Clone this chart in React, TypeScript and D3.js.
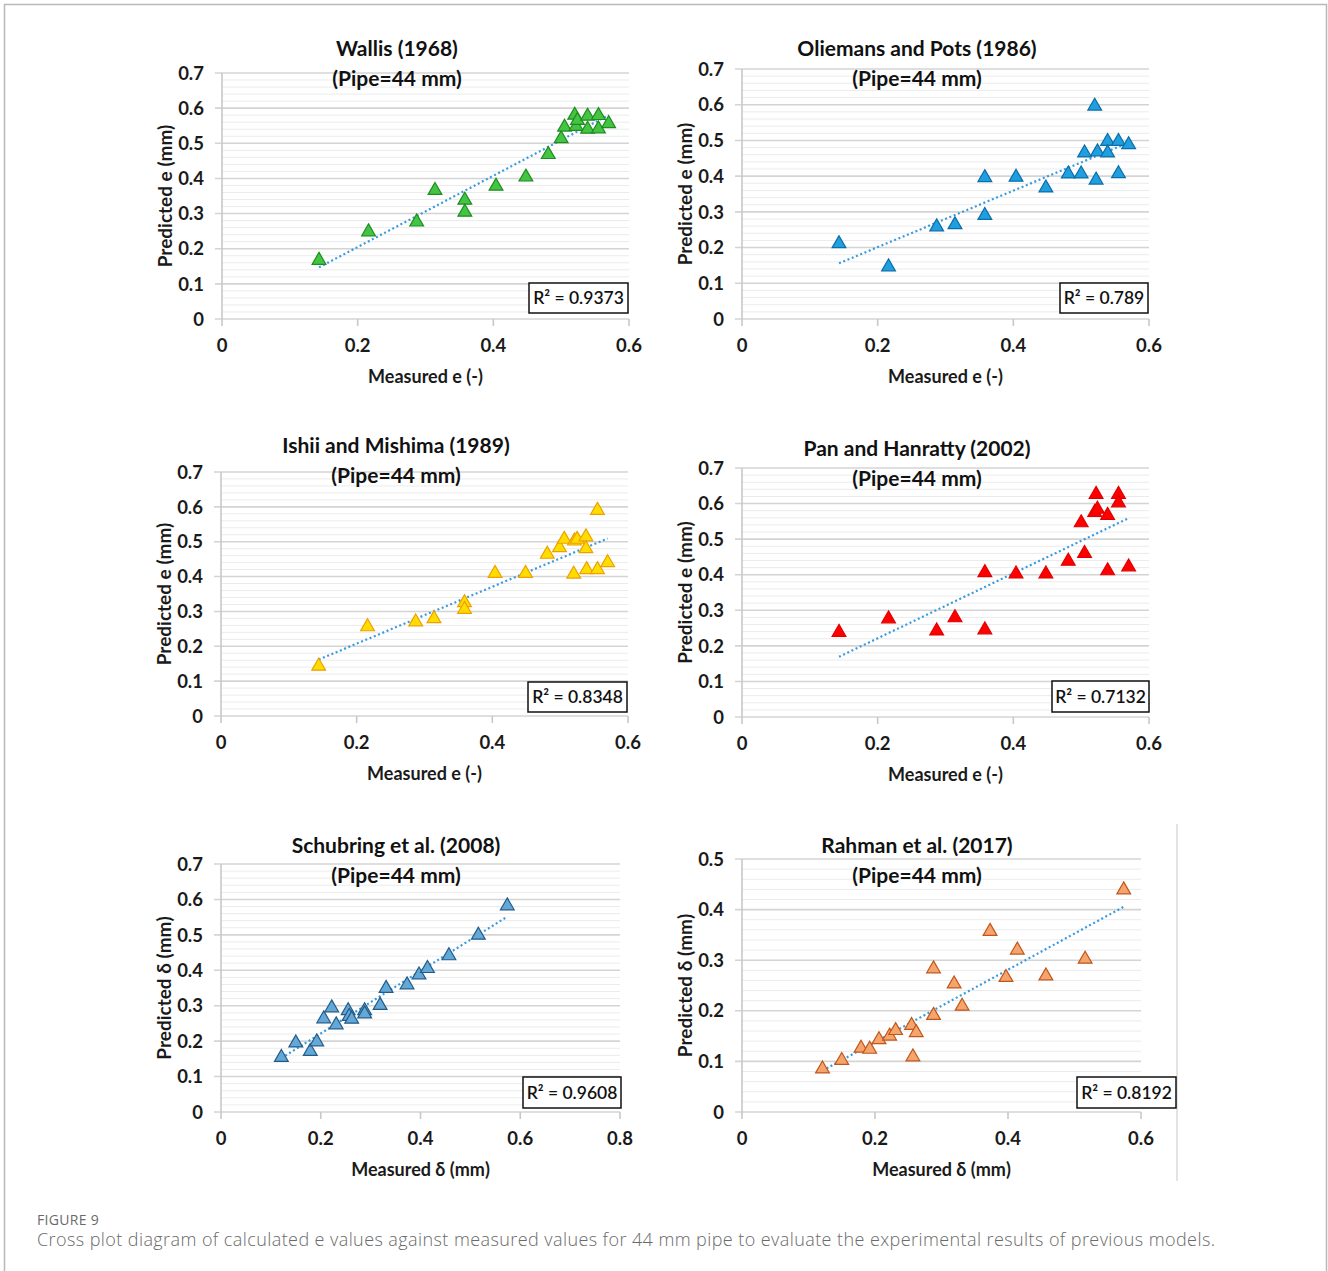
import * as d3 from "d3";

// measured e (-) shared by Wallis, Oliemans & Pots, Pan & Hanratty
const measuredE = [0.143, 0.216, 0.287, 0.314, 0.358, 0.358, 0.404, 0.448, 0.481, 0.5, 0.505, 0.52, 0.522, 0.524, 0.539, 0.539, 0.555, 0.555, 0.57];
const wallisPred = [0.167, 0.248, 0.276, 0.366, 0.338, 0.304, 0.378, 0.404, 0.468, 0.513, 0.546, 0.58, 0.548, 0.565, 0.577, 0.54, 0.579, 0.541, 0.556];
const oliemansPred = [0.211, 0.146, 0.258, 0.264, 0.396, 0.29, 0.397, 0.367, 0.406, 0.406, 0.465, 0.596, 0.389, 0.468, 0.497, 0.465, 0.497, 0.407, 0.488];
const panPred = [0.238, 0.276, 0.242, 0.279, 0.406, 0.245, 0.402, 0.402, 0.438, 0.546, 0.46, 0.575, 0.626, 0.584, 0.567, 0.411, 0.626, 0.602, 0.422];

// Ishii & Mishima has its own set of points
const ishiiMeasured = [0.144, 0.216, 0.287, 0.314, 0.359, 0.359, 0.404, 0.449, 0.481, 0.499, 0.506, 0.52, 0.521, 0.525, 0.538, 0.538, 0.539, 0.555, 0.555, 0.57];
const ishiiPred = [0.143, 0.256, 0.27, 0.279, 0.325, 0.306, 0.409, 0.409, 0.464, 0.483, 0.507, 0.407, 0.502, 0.507, 0.514, 0.48, 0.42, 0.59, 0.42, 0.44];

// measured film thickness delta (mm)
const measuredDelta = [0.121, 0.15, 0.179, 0.192, 0.206, 0.222, 0.231, 0.255, 0.257, 0.262, 0.288, 0.288, 0.319, 0.331, 0.373, 0.397, 0.414, 0.457, 0.516, 0.574];
const schubringPred = [0.154, 0.195, 0.171, 0.198, 0.263, 0.294, 0.246, 0.286, 0.27, 0.262, 0.286, 0.277, 0.301, 0.349, 0.359, 0.387, 0.405, 0.441, 0.499, 0.582];
const rahmanPred = [0.085, 0.102, 0.126, 0.124, 0.143, 0.15, 0.161, 0.171, 0.109, 0.157, 0.283, 0.191, 0.253, 0.209, 0.357, 0.266, 0.32, 0.269, 0.302, 0.439];

const yTicks07 = [0, 0.1, 0.2, 0.3, 0.4, 0.5, 0.6, 0.7];
const yTicks05 = [0, 0.1, 0.2, 0.3, 0.4, 0.5];
const xTicks06 = [0, 0.2, 0.4, 0.6];
const xTicks08 = [0, 0.2, 0.4, 0.6, 0.8];

const r2Labels = ["0.9373", "0.789", "0.8348", "0.7132", "0.9608", "0.8192"];

const FONT = "Lato, 'Open Sans', sans-serif";

const panels = [
  { title: "Wallis (1968)", xs: measuredE, ys: wallisPred, r2: r2Labels[0], fill: "#43c443", stroke: "#1e8c1e",
    xTicks: xTicks06, yTicks: yTicks07, xLabel: "Measured e (-)", yLabel: "Predicted e (mm)",
    left: 222, right: 629, top: 73, bottom: 319, titleY: 56, box: [529, 283, 99, 30] },
  { title: "Oliemans and Pots (1986)", xs: measuredE, ys: oliemansPred, r2: r2Labels[1], fill: "#1f9ee0", stroke: "#0b6ea8",
    xTicks: xTicks06, yTicks: yTicks07, xLabel: "Measured e (-)", yLabel: "Predicted e (mm)",
    left: 742, right: 1149, top: 69, bottom: 319, titleY: 56, box: [1060, 283, 88, 30] },
  { title: "Ishii and Mishima (1989)", xs: ishiiMeasured, ys: ishiiPred, r2: r2Labels[2], fill: "#ffdd00", stroke: "#eda000",
    xTicks: xTicks06, yTicks: yTicks07, xLabel: "Measured e (-)", yLabel: "Predicted e (mm)",
    left: 221, right: 628, top: 472, bottom: 716, titleY: 453, box: [528, 682, 99, 30] },
  { title: "Pan and Hanratty (2002)", xs: measuredE, ys: panPred, r2: r2Labels[3], fill: "#ff0000", stroke: "#e00000",
    xTicks: xTicks06, yTicks: yTicks07, xLabel: "Measured e (-)", yLabel: "Predicted e (mm)",
    left: 742, right: 1149, top: 468, bottom: 717, titleY: 456, box: [1052, 681, 97, 31] },
  { title: "Schubring et al. (2008)", xs: measuredDelta, ys: schubringPred, r2: r2Labels[4], fill: "#63a8d6", stroke: "#235b88",
    xTicks: xTicks08, yTicks: yTicks07, xLabel: "Measured δ (mm)", yLabel: "Predicted δ (mm)",
    left: 221, right: 620, top: 864, bottom: 1112, titleY: 853, box: [523, 1077, 98, 31] },
  { title: "Rahman et al. (2017)", xs: measuredDelta, ys: rahmanPred, r2: r2Labels[5], fill: "#f5a46c", stroke: "#c0561c",
    xTicks: xTicks06, yTicks: yTicks05, xLabel: "Measured δ (mm)", yLabel: "Predicted δ (mm)",
    left: 742, right: 1141, top: 859, bottom: 1112, titleY: 853, box: [1077, 1077, 99, 31] },
];

type Spec = (typeof panels)[number];

const tickFmt = (v: number) => (v === 0 ? "0" : d3.format(".1f")(v));

function Panel({ p }: { p: Spec }) {
  const xMax = p.xTicks[p.xTicks.length - 1];
  const yMax = p.yTicks[p.yTicks.length - 1];
  const x = d3.scaleLinear().domain([0, xMax]).range([p.left, p.right]);
  const y = d3.scaleLinear().domain([0, yMax]).range([p.bottom, p.top]);
  const minor = d3.range(0, yMax + 1e-9, 0.02).filter((v) => Math.abs(v * 10 - Math.round(v * 10)) > 1e-6);

  // linear trend line (least squares)
  const mx = d3.mean(p.xs)!;
  const my = d3.mean(p.ys)!;
  const sxy = d3.sum(p.xs, (v, i) => (v - mx) * (p.ys[i] - my));
  const sxx = d3.sum(p.xs, (v) => (v - mx) * (v - mx));
  const slope = sxy / sxx;
  const icpt = my - slope * mx;
  const [x0, x1] = d3.extent(p.xs) as [number, number];
  const trend = d3.line<number>().x((v) => x(v)).y((v) => y(icpt + slope * v))([x0, x1]);

  const tri = d3.symbol().type(d3.symbolTriangle).size(82)();
  const titleX = p.left + 175;
  const midY = (p.top + p.bottom) / 2;

  return (
    <g fontFamily={FONT}>
      {minor.map((v) => (
        <line key={"m" + v} x1={p.left} x2={p.right} y1={y(v)} y2={y(v)} stroke="#ebebeb" strokeWidth={1} />
      ))}
      {p.yTicks.map((v) => (
        <g key={"y" + v}>
          <line x1={p.left - 7} x2={p.right} y1={y(v)} y2={y(v)} stroke="#d4d4d4" strokeWidth={1.6} />
          <text x={p.left - 18} y={y(v)} dy="0.36em" textAnchor="end" fontSize={18.5} fontWeight="bold" fill="#1a1a1a">
            {tickFmt(v)}
          </text>
        </g>
      ))}
      <line x1={p.left} x2={p.left} y1={p.top} y2={p.bottom} stroke="#c8c8c8" strokeWidth={1.6} />
      {p.xTicks.map((v) => (
        <g key={"x" + v}>
          <line x1={x(v)} x2={x(v)} y1={p.bottom} y2={p.bottom + 7} stroke="#c8c8c8" strokeWidth={1.6} />
          <text x={x(v)} y={p.bottom + 33} textAnchor="middle" fontSize={18.5} fontWeight="bold" fill="#1a1a1a">
            {tickFmt(v)}
          </text>
        </g>
      ))}
      <path d={trend ?? ""} fill="none" stroke="#3a9ade" strokeWidth={2.2} strokeDasharray="2 2.6" />
      {p.xs.map((v, i) => (
        <path key={"p" + i} d={tri ?? ""} transform={`translate(${x(v)},${y(p.ys[i])})`}
          fill={p.fill} stroke={p.stroke} strokeWidth={1.2} />
      ))}
      <text x={titleX} y={p.titleY} textAnchor="middle" fontSize={21} fontWeight="bold" fill="#111">{p.title}</text>
      <text x={titleX} y={p.titleY + 30} textAnchor="middle" fontSize={21} fontWeight="bold" fill="#111">(Pipe=44 mm)</text>
      <text x={(p.left + p.right) / 2} y={p.bottom + 64} textAnchor="middle" fontSize={18} fontWeight="bold" fill="#1a1a1a">
        {p.xLabel}
      </text>
      <text transform={`translate(${p.left - 57},${midY}) rotate(-90)`} dy="0.35em" textAnchor="middle" fontSize={19}
        fontWeight="bold" fill="#1a1a1a">
        {p.yLabel}
      </text>
      <rect x={p.box[0]} y={p.box[1]} width={p.box[2]} height={p.box[3]} fill="#fff" stroke="#111" strokeWidth={1.5} />
      <text x={p.box[0] + p.box[2] / 2} y={p.box[1] + p.box[3] / 2} dy="0.36em" textAnchor="middle" fontSize={17.5}
        fontWeight={600} fill="#111">
        R² = {p.r2}
      </text>
    </g>
  );
}

export default function App() {
  return (
    <svg width={1328} height={1271} style={{ position: "absolute", left: 0, top: 0, background: "#fff" }}>
      <rect x={0} y={0} width={1328} height={1271} fill="#fff" />
      <path d="M4.5,1271 V4.5 H1326.5 V1271" fill="none" stroke="#b8b8b8" strokeWidth={1.5} />
      <line x1={1177} x2={1177} y1={824} y2={1181} stroke="#dadada" strokeWidth={1.5} />
      {panels.map((p) => (
        <Panel key={p.title} p={p} />
      ))}
      <text x={37} y={1225} fontFamily="'Open Sans', sans-serif" fontSize={14} fill="#6a6a6a" letterSpacing={0.3}>
        FIGURE 9
      </text>
      <text x={37} y={1246} fontFamily="'Open Sans', sans-serif" fontSize={18} fontWeight={300} fill="#6a6a6a"
        textLength={1178} lengthAdjust="spacing">
        Cross plot diagram of calculated e values against measured values for 44 mm pipe to evaluate the experimental results of previous models.
      </text>
    </svg>
  );
}
